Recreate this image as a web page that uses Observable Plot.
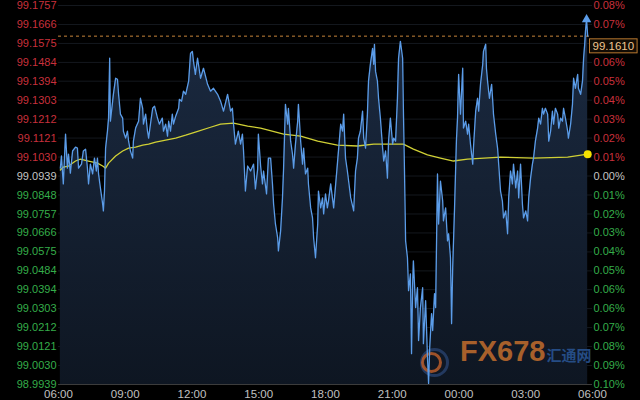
<!DOCTYPE html>
<html><head><meta charset="utf-8">
<script src="https://cdn.jsdelivr.net/npm/d3@7"></script>
<script src="https://cdn.jsdelivr.net/npm/@observablehq/plot@0.6"></script>
<style>
html,body{margin:0;padding:0;background:#000;}
#chart{width:640px;height:400px;overflow:hidden;}
</style></head><body><div id="chart"></div>
<script>
// minutes since 06:00 (session start)
const minutes = [
5,8,11,13,19,24,27,32,38,46,
51,54,62,67,73,78,81,86,92,97,
102,105,108,113,119,121,124,127,132,135,
138,140,146,148,154,159,162,167,173,175,
181,186,189,194,200,202,208,216,221,227,
229,235,240,243,248,254,259,267,272,280,
283,289,294,297,302,307,310,316,324,326,
332,337,343,351,356,361,364,369,375,383,
391,402,410,418,429,437,445,456,464,469,
472,477,485,491,496,499,504,510,518,526,
531,537,539,545,550,553,561,566,572,577,
580,585,591,593,599,604,607,612,618,620,
626,631,634,639,645,647,653,658,661,666,
672,674,680,685,688,693,699,701,707,712,
715,720,725,728,734,742,752,761,766,769,
774,779,788,796,801,806,809,814,820,823,
828,833,836,841,847,850,852,855,860,863,
868,874,877,882,887,890,895,901,904,909,
914,917,922,928,930,933,936,941,944,949,
952,955,957,963,968,971,976,982,984,990,
995,998,1001,1006,1009,1014,1017,1022,1025,1030,
1036,1038,1044,1049,1052,1057,1060,1063,1068,1073,
1076,1079,1084,1090,1092,1098,1103,1106,1111,1117,
1119,1125,1130,1133,1138,1144,1146,1152,1154,1157,
1162,1168,1171,1173,1179,1184,1187,1192,1197,1200,
1206,1211,1214,1219,1224,1227,1233,1238,1241,1246,
1251,1254,1260,1265,1268,1273,1278,1281,1286,1292,
1295,1300,1305,1308,1313,1319,1322,1327,1332,1335,
1340,1346,1349,1354,1359,1362,1367,1373,1375,1381,
1386,1389,1394,1400,1402,1408,1413,1416,1419,1421,
1424,1427
];
const prices = [
99.0977,99.1035,99.0949,99.0901,99.1140,99.0977,99.1044,99.0953,99.1059,99.1078,
99.1073,99.0977,99.0996,99.1059,99.1068,99.0977,99.0901,99.0996,99.0949,99.1025,
99.0963,99.1025,99.0949,99.0882,99.0805,99.0772,99.0867,99.1073,99.1154,99.1217,
99.1504,99.1202,99.1298,99.1331,99.1408,99.1403,99.1331,99.1236,99.1217,99.1154,
99.1121,99.1154,99.1106,99.1059,99.1025,99.1106,99.1169,99.1202,99.1312,99.1264,
99.1188,99.1236,99.1154,99.1121,99.1188,99.1264,99.1274,99.1217,99.1188,99.1217,
99.1154,99.1188,99.1130,99.1202,99.1154,99.1236,99.1188,99.1226,99.1264,99.1307,
99.1298,99.1346,99.1331,99.1394,99.1527,99.1537,99.1489,99.1427,99.1504,99.1408,
99.1456,99.1379,99.1346,99.1360,99.1331,99.1298,99.1250,99.1331,99.1250,99.1264,
99.1188,99.1092,99.1154,99.1092,99.1140,99.1059,99.0867,99.0987,99.0963,99.0996,
99.0877,99.0972,99.1140,99.0987,99.0901,99.0963,99.0853,99.1025,99.1025,99.0901,
99.0805,99.0709,99.0642,99.0580,99.0676,99.0834,99.0977,99.1283,99.1188,99.1264,
99.1106,99.1044,99.0977,99.1092,99.1202,99.1283,99.1106,99.0996,99.1073,99.0949,
99.0977,99.0901,99.0786,99.0738,99.0642,99.0547,99.0709,99.0867,99.0786,99.0834,
99.0757,99.0853,99.0786,99.0819,99.0901,99.0786,99.0996,99.1188,99.1154,99.1236,
99.1025,99.0963,99.0834,99.0772,99.0963,99.1025,99.1121,99.1154,99.1250,99.1121,
99.1073,99.1236,99.1394,99.1475,99.1551,99.1475,99.1571,99.1441,99.1394,99.1312,
99.1217,99.1073,99.1011,99.1059,99.0929,99.1106,99.1217,99.1092,99.1121,99.1106,
99.1312,99.1504,99.1585,99.1504,99.1264,99.0963,99.0628,99.0547,99.0389,99.0470,
99.0087,99.0422,99.0532,99.0308,99.0403,99.0150,99.0308,99.0403,99.0135,99.0341,
99.0068,98.9944,99.0116,99.0279,99.0198,99.0375,99.0308,99.0949,99.0709,99.0915,
99.0819,99.0724,99.0786,99.0628,99.0662,99.0547,99.0231,99.0499,99.0786,99.1106,
99.1217,99.1427,99.1236,99.1456,99.1169,99.1202,99.1140,99.1188,99.1092,99.0996,
99.1073,99.1250,99.1312,99.1250,99.1379,99.1475,99.1537,99.1571,99.1456,99.1394,
99.1312,99.1379,99.1298,99.1236,99.1140,99.1073,99.0996,99.0867,99.0819,99.0738,
99.0772,99.0662,99.0834,99.0963,99.0901,99.0996,99.0882,99.0963,99.0834,99.0996,
99.0805,99.0738,99.0772,99.0724,99.0834,99.0929,99.0996,99.1025,99.1106,99.1169,
99.1217,99.1188,99.1264,99.1236,99.1264,99.1236,99.1106,99.1154,99.1250,99.1188,
99.1264,99.1236,99.1169,99.1217,99.1202,99.1264,99.1217,99.1154,99.1121,99.1188,
99.1283,99.1408,99.1360,99.1427,99.1360,99.1331,99.1394,99.1504,99.1571,99.1633,
99.1690,99.1610
];
// moving average (yellow)
const maMinutes = [5,13,27,46,59,81,105,119,127,135,154,173,189,208,227,243,262,289,316,343,369,410,437,472,510,545,607,653,699,752,806,850,877,930,957,995,1030,1065,1103,1192,1281,1373,1427];
const maValues = [99.0968,99.0982,99.0987,99.1011,99.1020,99.1011,99.1001,99.0987,99.0977,99.1001,99.1035,99.1059,99.1073,99.1078,99.1087,99.1092,99.1102,99.1111,99.1121,99.1135,99.1150,99.1173,99.1188,99.1193,99.1178,99.1169,99.1140,99.1130,99.1106,99.1087,99.1083,99.1092,99.1092,99.1092,99.1068,99.1040,99.1025,99.1011,99.1020,99.1030,99.1025,99.1030,99.1044];

const prevClose = 99.0939;
const lastPrice = 99.1610;
const yTicks = [98.9939,99.0030,99.0121,99.0212,99.0303,99.0394,99.0484,99.0575,99.0666,99.0757,99.0848,99.0939,99.1030,99.1121,99.1212,99.1303,99.1394,99.1484,99.1575,99.1666,99.1757];
// the 99.1575 percent label is hidden behind the last-price box in the reference
const pctLabels = ["0.10%","0.09%","0.08%","0.07%","0.06%","0.06%","0.05%","0.04%","0.03%","0.02%","0.01%","0.00%","0.01%","0.02%","0.03%","0.04%","0.05%","0.06%","","0.07%","0.08%"];
const xTicks = [0,180,360,540,720,900,1080,1260,1440];
const xLabels = ["06:00","09:00","12:00","15:00","18:00","21:00","00:00","03:00","06:00"];

const series = minutes.slice(0, Math.min(minutes.length, prices.length)).map((m,i)=>({m, p: prices[i]}));
const ma = maMinutes.map((m,i)=>({m, p: maValues[i]}));
const yMin = yTicks[0], yMax = yTicks[yTicks.length-1];
const RED = "#c9303c", GREEN = "#35ad4a", GREY = "#c4c4c4";
const tickColor = v => Math.abs(v - prevClose) < 1e-6 ? GREY : (v > prevClose ? RED : GREEN);
const font = "'Liberation Sans', Arial, sans-serif";

const plot = Plot.plot({
  width: 640, height: 400,
  marginLeft: 58, marginRight: 48, marginTop: 5, marginBottom: 16,
  style: {background: "#000", fontFamily: font, fontSize: "11px", overflow: "visible"},
  x: {domain: [0, 1440]},
  y: {domain: [yMin, yMax], axis: null},
  color: {type: "identity"},
  marks: [
    Plot.ruleY(yTicks, {stroke: "#14181e", strokeWidth: 1}),
    Plot.areaY(series, {x: "m", y1: yMin, y2: "p", fill: "url(#areaGrad)"}),
    Plot.ruleY([yMin], {stroke: "#3c3c3c"}),
    // watermark
    Plot.dot([0], {frameAnchor: "bottom-right", dx: -158, dy: -22, r: 13, stroke: "#27406a", strokeWidth: 3, fill: "none", opacity: 0.85}),
    Plot.dot([0], {frameAnchor: "bottom-right", dx: -161, dy: -22, r: 9, stroke: "#c2602a", strokeWidth: 3, fill: "none", opacity: 0.8}),
    Plot.text(["FX678"], {frameAnchor: "bottom-right", dx: -47, dy: -24, textAnchor: "end", fontSize: 29, fontWeight: "bold", fill: "#b8682c", opacity: 0.9, fontFamily: font}),
    Plot.text(["汇通网"], {frameAnchor: "bottom-right", dx: -46, dy: -24, textAnchor: "start", fontSize: 15, fontWeight: "bold", fill: "#2b5a9c", opacity: 0.8, fontFamily: "'Noto Sans CJK SC', sans-serif"}),
    Plot.ruleY([lastPrice], {stroke: "#c8843a", strokeDasharray: "3,3", strokeWidth: 1}),
    Plot.line(ma, {x: "m", y: "p", stroke: "#d0d035", strokeWidth: 1.3}),
    Plot.line(series, {x: "m", y: "p", stroke: "#5b9ce8", strokeWidth: 1.3}),
    Plot.dot(series.slice(-2, -1), {x: "m", y: "p", symbol: "triangle", r: 3.5, fill: "#5b9ce8"}),
    Plot.dot(ma.slice(-1), {x: "m", y: "p", r: 4, fill: "#f5e100"}),
    Plot.text(yTicks, {y: d => d, frameAnchor: "left", dx: -2, textAnchor: "end", text: d => d.toFixed(4), fill: d => tickColor(d), fontSize: 11}),
    Plot.text(yTicks, {y: d => d, frameAnchor: "right", dx: 1, textAnchor: "start", text: (d, i) => pctLabels[i], fill: d => tickColor(d), fontSize: 11}),
    Plot.text([lastPrice], {y: d => d, frameAnchor: "right", dx: 0, dy: 10, textAnchor: "start", text: d => d.toFixed(4), fill: "#efc690", fontSize: 11.5, className: "lastbox"}),
    Plot.axisX({ticks: xTicks, tickFormat: d => xLabels[xTicks.indexOf(d)], tickSize: 0, tickPadding: 5, fill: "#c0c0c0", fontSize: 11.5, label: null})
  ]
});
document.getElementById("chart").appendChild(plot);

const svg = d3.select(plot);
const defs = svg.insert("defs", ":first-child");
const g = defs.append("linearGradient").attr("id", "areaGrad").attr("x1", 0).attr("y1", 0).attr("x2", 0).attr("y2", 1);
g.append("stop").attr("offset", "0%").attr("stop-color", "#1c2c44").attr("stop-opacity", 0.95);
g.append("stop").attr("offset", "100%").attr("stop-color", "#0e1622").attr("stop-opacity", 1);

const lt = svg.select("g.lastbox text");
if (!lt.empty()) {
  const node = lt.node();
  const bb = node.getBBox();
  d3.select(node.parentNode).insert("rect", "text")
    .attr("transform", node.getAttribute("transform"))
    .attr("x", bb.x - 3).attr("y", bb.y - 1).attr("width", bb.width + 6).attr("height", bb.height + 2)
    .attr("fill", "#120c05").attr("stroke", "#b8782e").attr("stroke-width", 1);
}
</script></body></html>
